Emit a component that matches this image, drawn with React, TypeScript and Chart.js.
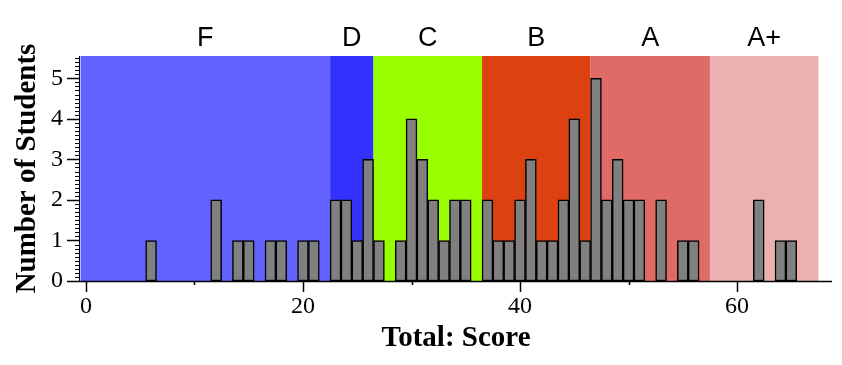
import React, { useEffect, useRef } from 'react';
import { Chart, registerables } from 'chart.js';

Chart.register(...registerables);

// Histogram data: score (bin centre) and number of students
const scores = [6, 12, 14, 15, 17, 18, 20, 21, 23, 24, 25, 26, 27, 29, 30, 31, 32, 33, 34, 35, 37, 38, 39, 40, 41, 42, 43, 44, 45, 46, 47, 48, 49, 50, 51, 53, 55, 56, 62, 64, 65];
const counts = [1, 2, 1, 1, 1, 1, 1, 1, 2, 2, 1, 3, 1, 1, 4, 3, 2, 1, 2, 2, 2, 1, 1, 2, 3, 1, 1, 2, 4, 1, 5, 2, 3, 2, 2, 2, 1, 1, 2, 1, 1];

// Grade bands
const gradeNames = ['F', 'D', 'C', 'B', 'A', 'A+'];
const gradeLower = [-0.5, 22.5, 26.5, 36.5, 46.5, 57.5];
const gradeUpper = [22.5, 26.5, 36.5, 46.5, 57.5, 67.5];
const gradeColors = ['#6262ff', '#3232ff', '#99ff00', '#dc4112', '#e06b66', '#ecb0b0'];

// Axes
const xMin = -0.55;
const xMax = 68.75;
const xMajorTicks = [0, 20, 40, 60];
const xMinorTicks = [10, 30, 50];
const yMin = 0;
const yMax = 5.55;
const yMajorTicks = [0, 1, 2, 3, 4, 5];
const yMinorStep = 0.1;

const xTitle = 'Total: Score';
const yTitle = 'Number of Students';

const gradePlugin = {
  id: 'gradeBands',
  beforeDatasetsDraw(chart: any) {
    const { ctx, chartArea, scales } = chart;
    const { left, right, top, bottom } = chartArea;
    const x = scales.x;
    ctx.save();
    for (let i = 0; i < gradeNames.length; i++) {
      const x0 = Math.max(left, x.getPixelForValue(gradeLower[i]));
      const x1 = Math.min(right, x.getPixelForValue(gradeUpper[i]));
      ctx.fillStyle = gradeColors[i];
      ctx.fillRect(x0, top, x1 - x0, bottom - top);
    }
    ctx.restore();
  },
  afterDatasetsDraw(chart: any) {
    const { ctx, chartArea, scales } = chart;
    const { left, right, top, bottom } = chartArea;
    const x = scales.x;
    const y = scales.y;
    ctx.save();
    ctx.strokeStyle = '#000';
    // x axis line
    ctx.lineWidth = 1.5;
    ctx.beginPath();
    ctx.moveTo(left, bottom + 0.5);
    ctx.lineTo(right, bottom + 0.5);
    ctx.stroke();
    // x major ticks
    for (const v of xMajorTicks) {
      const px = Math.round(x.getPixelForValue(v)) + 0.5;
      ctx.beginPath();
      ctx.moveTo(px, bottom);
      ctx.lineTo(px, bottom + 11);
      ctx.stroke();
    }
    for (const v of xMinorTicks) {
      const px = Math.round(x.getPixelForValue(v)) + 0.5;
      ctx.beginPath();
      ctx.moveTo(px, bottom);
      ctx.lineTo(px, bottom + 4);
      ctx.stroke();
    }
    // y axis line
    ctx.lineWidth = 1;
    ctx.beginPath();
    ctx.moveTo(left - 0.5, top);
    ctx.lineTo(left - 0.5, bottom + 1);
    ctx.stroke();
    // y minor ticks
    for (let v = yMin; v <= yMax + 1e-9; v += yMinorStep) {
      const py = Math.round(y.getPixelForValue(v)) + 0.5;
      ctx.beginPath();
      ctx.moveTo(left - 5, py);
      ctx.lineTo(left, py);
      ctx.stroke();
    }
    // y major ticks
    ctx.lineWidth = 1.5;
    for (const v of yMajorTicks) {
      const py = Math.round(y.getPixelForValue(v)) + 0.5;
      ctx.beginPath();
      ctx.moveTo(left - 13, py);
      ctx.lineTo(left, py);
      ctx.stroke();
    }
    // grade labels
    ctx.fillStyle = '#000';
    ctx.font = '27px "Liberation Sans", Arial, sans-serif';
    ctx.textAlign = 'center';
    ctx.textBaseline = 'alphabetic';
    for (let i = 0; i < gradeNames.length; i++) {
      const cx = x.getPixelForValue((gradeLower[i] + gradeUpper[i]) / 2);
      ctx.fillText(gradeNames[i], cx, 46);
    }
    ctx.restore();
  },
};

export default function App() {
  const canvasRef = useRef<HTMLCanvasElement | null>(null);

  useEffect(() => {
    const canvas = canvasRef.current;
    if (!canvas) return;
    const serif = '"Liberation Serif", "Times New Roman", serif';
    const chart = new Chart(canvas, {
      type: 'bar',
      data: {
        datasets: [
          {
            data: scores.map((s, i) => ({ x: s, y: counts[i] })),
            backgroundColor: '#808080',
            borderColor: '#000000',
            borderWidth: 1.5,
            borderSkipped: false,
            barPercentage: 1,
            categoryPercentage: 1,
          } as any,
        ],
      },
      options: {
        responsive: false,
        animation: false,
        events: [],
        layout: { padding: { top: 56, right: 10, left: 0, bottom: 0 } },
        plugins: { legend: { display: false }, tooltip: { enabled: false } },
        scales: {
          x: {
            type: 'linear',
            offset: false,
            min: xMin,
            max: xMax,
            grid: { display: false, drawTicks: false, offset: false },
            border: { display: false },
            afterBuildTicks: (s: any) => {
              s.ticks = [...xMajorTicks, ...xMinorTicks].sort((a, b) => a - b).map((v) => ({ value: v }));
            },
            ticks: {
              callback: (v: any) => (xMajorTicks.includes(Number(v)) ? String(v) : ''),
              font: { family: serif, size: 24 },
              color: '#000',
              padding: 11,
              maxRotation: 0,
              autoSkip: false,
            },
            title: {
              display: true,
              text: xTitle,
              font: { family: serif, size: 29, weight: 'bold' },
              color: '#000',
              padding: { top: 0, bottom: 9 },
            },
            afterFit: (s: any) => {
              s.height = 84;
            },
          },
          y: {
            type: 'linear',
            min: yMin,
            max: yMax,
            grid: { display: false, drawTicks: false },
            border: { display: false },
            afterBuildTicks: (s: any) => {
              s.ticks = yMajorTicks.map((v) => ({ value: v }));
            },
            ticks: {
              callback: (v: any) => String(v),
              font: { family: serif, size: 24 },
              color: '#000',
              padding: 17,
              autoSkip: false,
            },
            title: {
              display: true,
              text: yTitle,
              font: { family: serif, size: 29, weight: 'bold' },
              color: '#000',
              padding: { top: 10, bottom: 0 },
            },
            afterFit: (s: any) => {
              s.width = 80;
            },
          },
        },
      } as any,
      plugins: [gradePlugin],
    });
    return () => chart.destroy();
  }, []);

  return (
    <div style={{ position: 'fixed', left: 0, top: 0, width: 842, height: 365, background: '#fff' }}>
      <canvas ref={canvasRef} width={842} height={365} style={{ display: 'block' }} />
    </div>
  );
}
